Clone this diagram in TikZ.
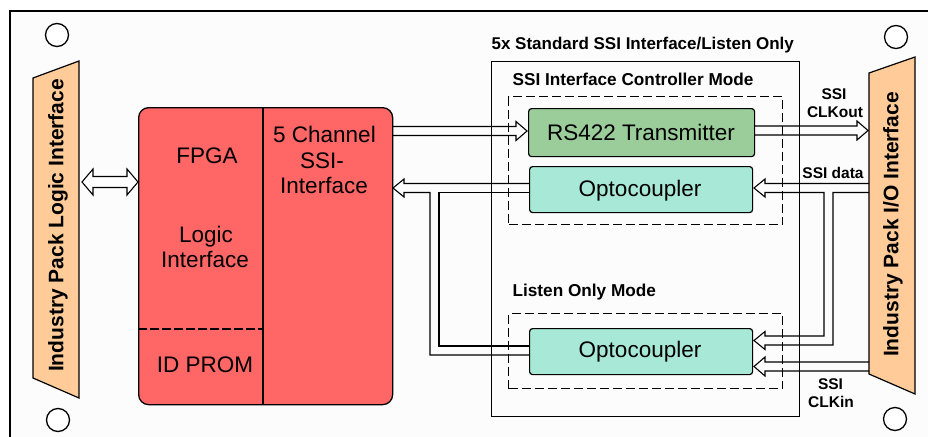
\documentclass[tikz,border=0pt]{standalone}
\usepackage{fontspec}
\setmainfont{Liberation Sans}
\definecolor{fpgared}{HTML}{FF6666}
\definecolor{peach}{HTML}{FFCC99}
\definecolor{rsgreen}{HTML}{9ACD9A}
\definecolor{optmint}{HTML}{A8E8D6}
\definecolor{boardbg}{HTML}{FCFCFC}
\newcommand\hollowR[3]{\draw[pipe] (#1,#3-4.5) -- (#2-11,#3-4.5) -- (#2-11,#3-9.5) -- (#2,#3) -- (#2-11,#3+9.5) -- (#2-11,#3+4.5) -- (#1,#3+4.5);}
\newcommand\hollowL[3]{\draw[pipe] (#1,#3-4.5) -- (#2+11,#3-4.5) -- (#2+11,#3-9.5) -- (#2,#3) -- (#2+11,#3+9.5) -- (#2+11,#3+4.5) -- (#1,#3+4.5);}
\begin{document}
\begin{tikzpicture}[x=1pt,y=-1pt,
  line width=1.2pt,
  lbl/.style={inner sep=0pt, anchor=base, font=\bfseries\fontsize{15.5}{18}\selectfont},
  big/.style={inner sep=0pt, anchor=base, font=\fontsize{22.5}{26}\selectfont},
  mode/.style={inner sep=0pt, anchor=base west, font=\bfseries\fontsize{17.2}{20}\selectfont},
  conn/.style={draw, fill=peach, line width=1.2pt},
  conntext/.style={inner sep=0pt, anchor=base, rotate=90, font=\bfseries\fontsize{21}{25}\selectfont},
  hole/.style={draw, fill=white, circle, minimum size=23pt, inner sep=0pt, line width=1.3pt},
  dbox/.style={draw, dash pattern=on 9pt off 4pt, line width=1.2pt, inner sep=0pt, anchor=north west},
  pipe/.style={draw, line width=1.1pt, line join=miter},
  module/.style={draw, rounded corners=3pt, line width=1.2pt, inner sep=0pt, anchor=north west}
]
\useasboundingbox (0,0) rectangle (928,436);
\clip (0,0) rectangle (928,436);
\fill[white] (0,0) rectangle (928,436);
\draw[fill=boardbg, line width=1.5pt] (10,11) rectangle (960,470);

% mounting holes
\node[hole] (h1) at (57,35) {};
\node[hole] (h2) at (58,420) {};
\node[hole] (h3) at (896,37) {};
\node[hole] (h4) at (895,419) {};

% connectors
\draw[conn] (33,78) -- (79,61) -- (79,398) -- (33,378) -- cycle;
\node[conntext] (lctext) at (63.3,225.5) {Industry Pack Logic Interface};
\draw[conn] (869,73) -- (915,57) -- (915,394) -- (869,374) -- cycle;
\node[conntext] (rctext) at (898.3,224.5) {Industry Pack I/O Interface};

% FPGA block
\node[draw, fill=fpgared, rounded corners=10pt, minimum width=254pt, minimum height=297pt,
      anchor=north west, inner sep=0pt, line width=1.3pt] (fpga) at (138,107) {};
\draw[line width=1.3pt] (263,107) -- (263,404);
\draw[dash pattern=on 9pt off 3pt] (138,329) -- (263,329);
\node[big] (tfpga) at (207,163) {FPGA};
\node[big] (tlogic1) at (206,242) {Logic};
\node[big] (tlogic2) at (205,267) {Interface};
\node[big] (tid) at (205,372.5) {ID PROM};
\node[big] (tch1) at (324.5,142.5) {5 Channel};
\node[big] (tch2) at (322,168.3) {SSI-};
\node[big] (tch3) at (324,193.3) {Interface};

% SSI area
\node[draw, minimum width=308pt, minimum height=355pt, anchor=north west, inner sep=0pt, line width=1.3pt] (ssibox) at (491,61) {};
\node[mode, font=\bfseries\fontsize{17}{20}\selectfont] (ttitle) at (491,50) {5x Standard SSI Interface/Listen Only};
\node[mode] (tctrl) at (512,85.7) {SSI Interface Controller Mode};
\node[mode] (tlisten) at (512,296) {Listen Only Mode};
\node[dbox, minimum width=274pt, minimum height=128pt] (ctrl) at (508,96) {};
\node[dbox, minimum width=274pt, minimum height=75pt] (listen) at (508,313) {};

\node[module, fill=rsgreen, minimum width=226pt, minimum height=48pt] (rs) at (528,108) {};
\node[module, fill=optmint, minimum width=223pt, minimum height=46pt] (opt1) at (529,166) {};
\node[module, fill=optmint, minimum width=223pt, minimum height=46pt] (opt2) at (529,328) {};
\node[big] (trs) at (641,140) {RS422 Transmitter};
\node[big] (to1) at (640,196) {Optocoupler};
\node[big] (to2) at (640,357) {Optocoupler};

% labels
\node[lbl] (l1a) at (834,99) {SSI};
\node[lbl] (l1b) at (835,117) {CLKout};
\node[lbl] (l2) at (833,178) {SSI data};
\node[lbl] (l3a) at (830.5,389) {SSI};
\node[lbl] (l3b) at (831,407) {CLKin};

% arrows
\draw[pipe, fill=white] (82,182) -- (93,169) -- (93,176.5) -- (127,176.5) -- (127,169) -- (138,182)
   -- (127,195) -- (127,187.5) -- (93,187.5) -- (93,195) -- cycle;
\hollowR{392}{527}{131}
\hollowR{754}{868}{130.5}
\hollowL{869}{754}{366.5}
% opto outputs to FPGA
\draw[pipe] (529,183.5) -- (404,183.5) -- (404,179) -- (393,188) -- (404,197) -- (404,192.5)
   -- (430,192.5) -- (430,355) -- (529,355);
\draw[pipe] (529,192.5) -- (439,192.5) -- (439,346) -- (529,346);
% SSI data to both optos
\draw[pipe] (869,183.5) -- (765,183.5) -- (765,179) -- (754,188) -- (765,197) -- (765,192.5)
   -- (824,192.5) -- (824,336) -- (765,336) -- (765,331.5) -- (754,340.5) -- (765,349.5)
   -- (765,345) -- (833,345) -- (833,192.5) -- (869,192.5);
\end{tikzpicture}
\end{document}
